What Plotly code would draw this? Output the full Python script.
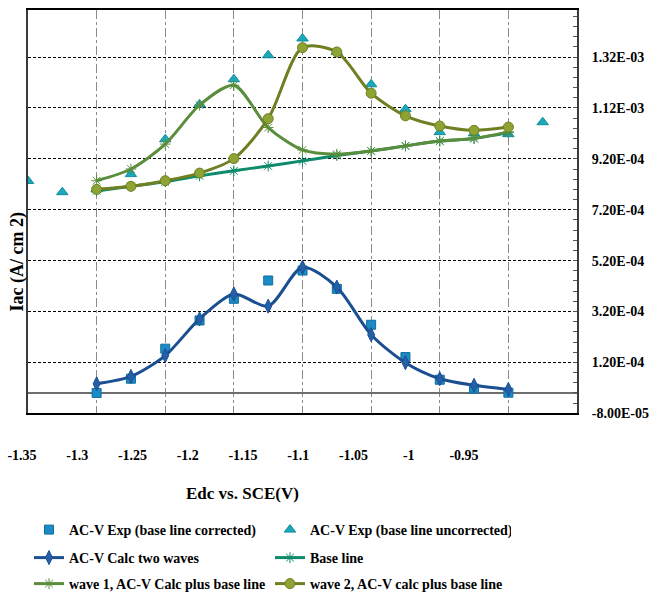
import plotly.graph_objects as go

W, H = 651, 600

# ---------------- data ----------------
E = [-1.3, -1.275, -1.25, -1.225, -1.2, -1.175, -1.15, -1.125, -1.1, -1.075, -1.05, -1.025, -1.0]
E_uncorr = [-1.35, -1.325, -1.3, -1.275, -1.25, -1.225, -1.2, -1.175, -1.15, -1.125, -1.1,
            -1.075, -1.05, -1.025, -1.0, -0.975]

exp_corrected = [0.0, 5.6e-5, 1.74e-4, 2.85e-4, 3.70e-4, 4.42e-4, 4.81e-4, 4.09e-4, 2.68e-4,
                 1.41e-4, 5.2e-5, 1.7e-5, 1.0e-6]
exp_uncorrected = [8.33e-4, 7.89e-4, 8.0e-4, 8.6e-4, 9.97e-4, 1.134e-3, 1.233e-3, 1.327e-3,
                   1.393e-3, 1.34e-3, 1.213e-3, 1.115e-3, 1.025e-3, 1.02e-3, 1.017e-3, 1.064e-3]
calc_two_waves = [3.6e-5, 6.5e-5, 1.47e-4, 2.91e-4, 3.89e-4, 3.41e-4, 4.94e-4, 4.16e-4, 2.29e-4,
                  1.19e-4, 5.6e-5, 3.0e-5, 1.4e-5]
base_line = [7.94e-4, 8.12e-4, 8.30e-4, 8.53e-4, 8.73e-4, 8.92e-4, 9.12e-4, 9.33e-4, 9.51e-4,
             9.71e-4, 9.90e-4, 1.0e-3, 1.023e-3]
wave1_plus_base = [8.34e-4, 8.80e-4, 9.78e-4, 1.131e-3, 1.209e-3, 1.043e-3, 9.55e-4, 9.38e-4,
                   9.51e-4, 9.71e-4, 9.90e-4, 1.0e-3, 1.026e-3]
wave2_plus_base = [8.0e-4, 8.12e-4, 8.34e-4, 8.64e-4, 9.21e-4, 1.078e-3, 1.357e-3, 1.34e-3,
                   1.178e-3, 1.089e-3, 1.049e-3, 1.032e-3, 1.045e-3]

x_ticks = [-1.35, -1.3, -1.25, -1.2, -1.15, -1.1, -1.05, -1.0, -0.95]
x_ticktext = ["-1.35", "-1.3", "-1.25", "-1.2", "-1.15", "-1.1", "-1.05", "-1", "-0.95"]
y_ticks = [-8e-5, 1.2e-4, 3.2e-4, 5.2e-4, 7.2e-4, 9.2e-4, 1.12e-3, 1.32e-3]
y_ticktext = [f"{v:.2E}" for v in y_ticks]

names = ["AC-V Exp (base line corrected)", "AC-V Exp (base line uncorrected)",
         "AC-V Calc two waves", "Base line",
         "wave 1, AC-V Calc plus base line", "wave 2, AC-V calc plus base line"]

FONT = "Liberation Serif"

fig = go.Figure()

fig.add_trace(go.Scatter(x=E, y=exp_corrected, mode="markers", name=names[0], legend="legend",
                         marker=dict(symbol="square", size=9, color="#1C8AC4",
                                     line=dict(color="#0F6FA0", width=1))))
fig.add_trace(go.Scatter(x=E_uncorr, y=exp_uncorrected, mode="markers", name=names[1], legend="legend",
                         marker=dict(symbol="triangle-up", size=10, color="#19A9BA",
                                     line=dict(color="#128C9B", width=1))))
fig.add_trace(go.Scatter(x=E, y=calc_two_waves, mode="lines+markers", name=names[2], legend="legend2",
                         line=dict(color="#1B4F91", width=3, shape="spline", smoothing=0.8),
                         marker=dict(symbol="diamond-tall", size=10, color="#2460AA",
                                     line=dict(color="#1B4F91", width=1))))
fig.add_trace(go.Scatter(x=E, y=base_line, mode="lines+markers", name=names[3], legend="legend2",
                         line=dict(color="#0E8A6C", width=3, shape="spline", smoothing=0.8),
                         marker=dict(symbol="asterisk-open", size=9,
                                     line=dict(color="#2E9E70", width=1))))
fig.add_trace(go.Scatter(x=E, y=wave1_plus_base, mode="lines+markers", name=names[4], legend="legend3",
                         line=dict(color="#5A8E3C", width=3, shape="spline", smoothing=0.8),
                         marker=dict(symbol="asterisk-open", size=9,
                                     line=dict(color="#4E9A3A", width=1))))
fig.add_trace(go.Scatter(x=E, y=wave2_plus_base, mode="lines+markers", name=names[5], legend="legend3",
                         line=dict(color="#6F7F22", width=3, shape="spline", smoothing=0.8),
                         marker=dict(symbol="circle", size=10, color="#8DA333",
                                     line=dict(color="#6F7F22", width=1))))

# invisible trace carrying the (offset) tick-label axis
fig.add_trace(go.Scatter(x=x_ticks, y=[0] * len(x_ticks), xaxis="x2", yaxis="y2", mode="none",
                         showlegend=False, hoverinfo="skip"))

x0, x1 = 28 / W, 577 / W
y0, y1 = 1 - 414 / H, 1 - 10 / H

legend_common = dict(orientation="h", xanchor="left", yanchor="top",
                     entrywidth=196, entrywidthmode="pixels",
                     font=dict(family=FONT, size=14, color="black", weight="bold"),
                     bgcolor="rgba(0,0,0,0)", itemclick=False)

fig.update_layout(
    width=W, height=H,
    margin=dict(l=0, r=0, t=0, b=0),
    paper_bgcolor="white", plot_bgcolor="rgba(0,0,0,0)",
    showlegend=True,
    xaxis=dict(domain=[x0, x1], range=[-1.35, -0.95], tickvals=x_ticks, showticklabels=False,
               ticks="", showgrid=True, gridcolor="#8a8a8a", griddash="dashdot", gridwidth=1,
               zeroline=False, showline=True, mirror=True, linecolor="black", linewidth=2,
               automargin=False),
    yaxis=dict(domain=[y0, y1], range=[-8e-5, 1.505e-3], side="right",
               tickmode="array", tickvals=y_ticks, ticktext=y_ticktext,
               ticks="inside", ticklen=4, tickcolor="#555",
               tickfont=dict(family=FONT, size=14, color="black", weight="bold"),
               ticklabelstandoff=10,
               showgrid=True, gridcolor="black", griddash="3px,2px", gridwidth=1,
               zeroline=True, zerolinecolor="#6e6e6e", zerolinewidth=2,
               showline=True, mirror=True, linecolor="#3a3a3a", linewidth=2,
               minor=dict(ticks="inside", ticklen=4, tickcolor="#555", tick0=-8e-5, dtick=4e-5,
                          showgrid=False),
               automargin=False),
    xaxis2=dict(domain=[22 / W, 464 / W], range=[-1.35, -0.95], anchor="free",
                position=1 - 446 / H, tickvals=x_ticks, ticktext=x_ticktext, ticks="",
                showline=False, showgrid=False, zeroline=False,
                tickfont=dict(family=FONT, size=14, color="black", weight="bold"),
                automargin=False),
    yaxis2=dict(domain=[y0, y1], anchor="x2", visible=False, showgrid=False, zeroline=False),
    legend=dict(x=29 / W, y=1 - 514 / H, **legend_common),
    legend2=dict(x=29 / W, y=1 - 542 / H, **legend_common),
    legend3=dict(x=29 / W, y=1 - 568.5 / H, **legend_common),
    annotations=[
        dict(text="Edc vs. SCE(V)", xref="paper", yref="paper", x=242 / W, y=1 - 494 / H,
             xanchor="center", yanchor="middle",
             showarrow=False, font=dict(family=FONT, size=17, color="black", weight="bold")),
        dict(text="Iac (A/ cm 2)", xref="paper", yref="paper", x=18 / W, y=1 - 263 / H,
             xanchor="center", yanchor="middle",
             textangle=-90, showarrow=False,
             font=dict(family=FONT, size=18, color="black", weight="bold")),
    ],
)

fig.write_html("out.html")
